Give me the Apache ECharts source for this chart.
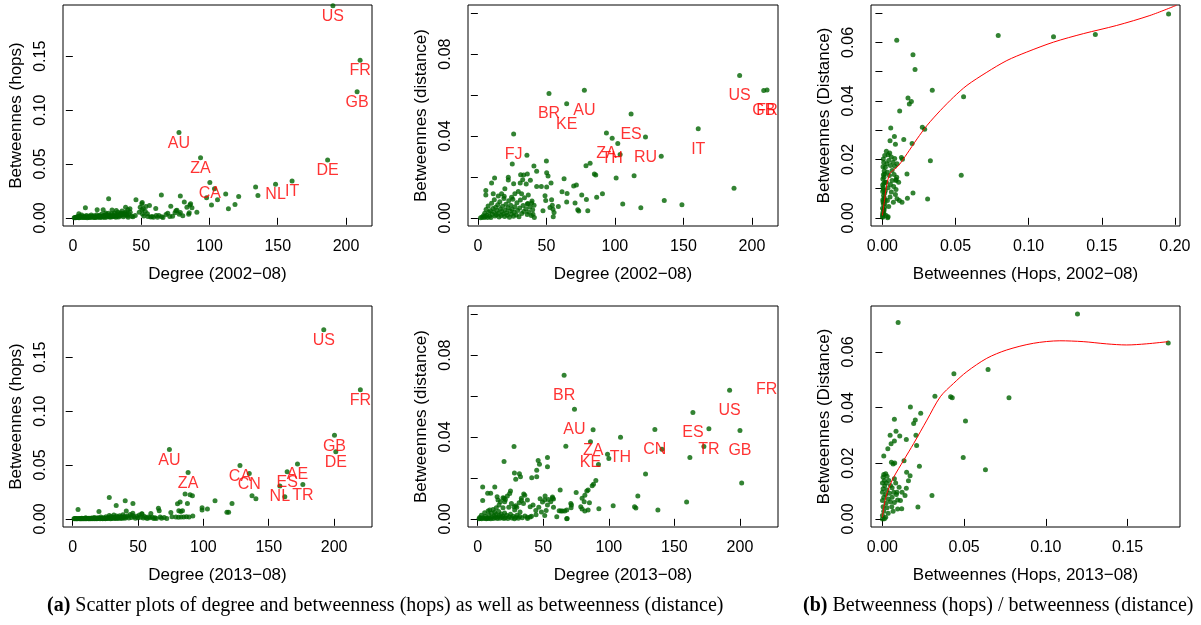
<!DOCTYPE html>
<html>
<head>
<meta charset="utf-8">
<script src="https://cdn.jsdelivr.net/npm/echarts@6/dist/echarts.min.js"></script>
<style>
  html, body { margin: 0; padding: 0; background: #fff; }
  #main { width: 1201px; height: 625px; }
</style>
</head>
<body>
<div id="main"></div>
<script>
// ---- data ----
// (a) top row: degree 2002-08 vs betweenness
var deg02Hops = [
  [190.4,0.1968],[210.3,0.1464],[208.1,0.1171],[77.7,0.0791],[93.5,0.0557],[186.5,0.0536],[160.5,0.0342],
  [148.4,0.0311],[133.8,0.0286],[135.5,0.0208],[100.3,0.0327],[103.7,0.0271],[111.9,0.0221],[121.4,0.0199],
  [105.9,0.0168],[97.9,0.0187],[101.5,0.0118],[113.9,0.0084],[118.7,0.0124],
  [64.8,0.0211],[78.7,0.0202],[81.6,0.0146],[85.7,0.0118],[86.2,0.0131],[83.5,0.0099],[87.2,0.0093],[71.7,0.0108],
  [75.5,0.0065],[76.2,0.0071],[78.7,0.005],[80.5,0.002],[90.8,0.0052],[84.8,0.0034],[69.5,0.0043],[71,0.0012],
  [73,0.0015],[60.7,0.0087],[56.1,0.0115],[68.2,0.003],[61,0.0021],[63,0.0021],[74.8,0.0047],[77.9,0.0034],[85.2,0.0047],
  [46.2,0.0168],[26.2,0.0177],[50.5,0.0131],[50.8,0.0143],[49.3,0.0099],[51.5,0.0087],[53.5,0.0106],[50.6,0.0075],
  [48.6,0.0052],[54.6,0.0037],[45.7,0.0021],[52,0.0018],[53,0.006],[51,0.0035],[55,0.0012],[57,0.0008],[58,0.0012],
  [59,0.0005],[65,0.0011],[66,0.0004],[62,0.0006],
  [38.6,0.0099],[40.3,0.0075],[41.8,0.0084],[31.8,0.0068],[17.8,0.0075],[22.2,0.0075],[9.2,0.0093],[28.7,0.0072],
  [4.4,0.0037],[36,0.0063],[33,0.0052],[42,0.0052],[39,0.0055],[24,0.0045],[35,0.0045],[38,0.0048],
  [1,0.0001],[1.5,0.0003],[2,0],[2.5,0.0006],[3,0.0002],[3.5,0.0012],[4,0.0004],[4.5,0.0001],[5,0.0018],[5.5,0.0007],
  [6,0.0003],[6.5,0.0026],[7,0.0009],[7.5,0.0002],[8,0.0005],[8.5,0.0014],[9,0.0003],[9.5,0.0008],[10,0.0021],
  [10.5,0.0001],[11,0.0011],[11.5,0.0004],[12,0.0016],[12.5,0.0007],[13,0.0002],[13.5,0.0025],[14,0.0009],
  [14.5,0.0013],[15,0.0004],[15.5,0.0019],[16,0.0006],[16.5,0.0002],[17,0.0011],[17.5,0.0028],[18,0.0005],
  [18.5,0.0015],[19,0.0008],[19.5,0.0022],[20,0.0003],[20.5,0.0012],[21,0.0033],[21.5,0.0006],[22,0.0017],
  [22.5,0.0009],[23,0.0024],[23.5,0.0004],[24.5,0.0031],[25,0.0007],[25.5,0.0019],[26,0.0042],[26.5,0.001],
  [27,0.0026],[27.5,0.0005],[28,0.0015],[28.5,0.0038],[29,0.0009],[29.5,0.0023],[30,0.0012],[30.5,0.0045],
  [31,0.0018],[31.5,0.0006],[32,0.0029],[32.5,0.0014],[33.5,0.0008],[34,0.0035],[34.5,0.0016],[35.5,0.0027],
  [36.5,0.0041],[37,0.0009],[37.5,0.0024],[38.5,0.0033],[39.5,0.0028],[40,0.0018],[40.5,0.0006],[41,0.0036],
  [43,0.0014],[44,0.0009]
];
var deg02HopsLabels = [
  [190.4,0.1968,'US'],[210.3,0.1464,'FR'],[208.1,0.1171,'GB'],[77.7,0.0791,'AU'],[93.5,0.0557,'ZA'],
  [100.3,0.0327,'CA'],[186.5,0.0536,'DE'],[148.4,0.0311,'NL'],[160.5,0.0342,'IT']
];

var deg02Dist = [
  [191,0.0696],[208.6,0.0622],[211,0.0625],[77.7,0.0623],[51.9,0.0607],[64.8,0.0558],[111.8,0.0507],[160.8,0.0435],
  [26.1,0.041],[93.8,0.0415],[98,0.0389],[122.3,0.0395],[102.1,0.0363],[35.8,0.0306],[103.8,0.031],[133.8,0.0301],
  [25.1,0.0263],[50,0.0278],[78.9,0.0255],[81.9,0.0267],[40.9,0.0253],[42.9,0.0227],[50.2,0.022],[51.2,0.0204],
  [85,0.0214],[86,0.0209],[114,0.0206],[100.9,0.0195],[62.9,0.0191],[186.9,0.0145],[69.9,0.0155],[71.9,0.016],
  [61.4,0.0127],[65.1,0.0119],[75.8,0.0111],[79.2,0.009],[86.7,0.0101],[90.9,0.0118],[70.9,0.0073],[72.9,0.004],
  [73.6,0.0033],[80.2,0.0034],[105.7,0.0067],[118.9,0.0049],[136,0.0085],[148.9,0.0064],[64.8,0.0077],[58.7,0.0055],
  [53.8,0.0088],[54.3,0.0062],[54.8,0.0042],[55.6,0.0026],[55,0.0005],[49,0.0108],[49.5,0.0085],[50.2,0.015],
  [47.5,0.0034],[52.6,0.005],[41.2,0.0002],[40.2,0.0018],
  [22.2,0.0198],[22.2,0.0185],[12.2,0.0195],[10,0.017],[31.2,0.0211],[33.4,0.0209],[36.1,0.0214],[32.7,0.0186],
  [38.3,0.0183],[26.1,0.0167],[30.9,0.017],[35.3,0.0165],[42.9,0.0153],[46.3,0.0153],[53.4,0.017],[5.8,0.0134],
  [5.8,0.0111],[11.2,0.0118],[14.9,0.0106],[17.3,0.0118],[19.2,0.0105],[24.6,0.0101],[27,0.0118],[19.7,0.0142],
  [29.5,0.0129],[31.9,0.0118],[36.8,0.0111],[39.2,0.0072],[36.1,0.0067],
  [2,0],[3,0.0003],[4,0.001],[4.5,0.0001],[5,0.0022],[5.5,0.0005],[6,0.0041],[6.5,0.0013],[7,0.0002],[7.5,0.0058],
  [8,0.0027],[8.5,0.0008],[9,0.0035],[9.5,0.0001],[10,0.0071],[10.5,0.0018],[11,0.0046],[11.5,0.0029],[12,0.0088],
  [12.5,0.0009],[13,0.0052],[13.5,0.0015],[14,0.0036],[14.5,0.0064],[15,0.0022],[15.5,0.0004],[16,0.0079],
  [16.5,0.0043],[17,0.0011],[17.5,0.0031],[18,0.0056],[18.5,0.0019],[19,0.0094],[19.5,0.0007],[20,0.0038],
  [20.5,0.0066],[21,0.0025],[21.5,0.0012],[22,0.0049],[22.5,0.0083],[23,0.0003],[23.5,0.0033],[24,0.0061],
  [24.5,0.0017],[25,0.0042],[25.5,0.0091],[26,0.0008],[26.5,0.0027],[27,0.0054],[28,0.0014],[28.5,0.0074],
  [29,0.0036],[30,0.0005],[30.5,0.0048],[31,0.0087],[32,0.0021],[33,0.006],[33.5,0.0031],[34,0.0098],[35,0.0044],
  [36,0.0016],[36.5,0.007],[37,0.0029],[38,0.0053],[39,0.0011],[39.5,0.0082],[40,0.004],[41,0.0062]
];
var deg02DistLabels = [
  [191,0.0696,'US'],[211,0.0625,'FR'],[208.6,0.0622,'GB'],[77.7,0.0623,'AU'],[51.9,0.0607,'BR'],[64.8,0.0558,'KE'],
  [111.8,0.0507,'ES'],[160.8,0.0435,'IT'],[26.1,0.041,'FJ'],[93.8,0.0415,'ZA'],[98,0.0389,'TH'],[122.3,0.0395,'RU']
];

// (b) top: hops vs distance 2002-08
var hopsDist02 = [
  [0.1957,0.0697],[0.1456,0.0627],[0.117,0.0619],[0.0792,0.0624],[0.0098,0.0607],[0.0209,0.0558],[0.0223,0.0507],
  [0.0341,0.0436],[0.0555,0.0414],[0.0175,0.041],[0.0198,0.0398],[0.0184,0.0389],[0.0118,0.0365],[0.0273,0.031],
  [0.0289,0.0303],[0.0057,0.0307],[0.0082,0.0278],[0.0052,0.0264],[0.0089,0.0252],[0.0146,0.0268],[0.0203,0.0254],
  [0.0328,0.0195],[0.0539,0.0146],[0.0168,0.015],[0.013,0.0206],[0.0137,0.02],[0.0209,0.0085],[0.0309,0.0064],
  [0.0171,0.0067],[0.0093,0.0131],[0.0093,0.0097],
  [0.0027,0.0228],[0.005,0.0222],[0.0016,0.0213],[0.0039,0.0216],[0.0061,0.0208],[0.0084,0.0203],[0.0043,0.0196],
  [0.0073,0.019],[0.003,0.0185],[0.0055,0.0179],[0.002,0.0173],[0.0084,0.0176],[0.01,0.0185],[0.0066,0.0162],
  [0.0034,0.0156],[0.0016,0.015],[0.0048,0.0145],[0.008,0.0148],[0.0098,0.0139],[0.0066,0.0128],[0.0027,0.0122],
  [0.0055,0.0114],[0.0093,0.0128],[0.0111,0.0122],[0.0077,0.0107],[0.0039,0.0103],[0.002,0.0093],[0.0061,0.0088],
  [0.0089,0.008],[0.01,0.0065],[0.0116,0.0059],[0.0052,0.0071],[0.0034,0.0059],[0.0016,0.0048],[0.0043,0.0039],
  [0.0075,0.0053],[0.0134,0.0053],[0.0011,0.0025],[0.0025,0.0008],[0.0039,0.0004],[0.0002,0.0002],[0.0011,0.0014],
  [0.0002,0.0005],[0.0004,0.0019],[0.0001,0.0033],[0.0006,0.0047],[0.0003,0.0062],[0.0008,0.0076],[0.0002,0.009],
  [0.0005,0.0104],[0.001,0.0118],[0.0003,0.0133],[0.0007,0.0147],[0.0012,0.016],[0.0004,0.0175],[0.0009,0.0189],
  [0.0006,0.0201],[0.0001,0.0011],[0.0009,0.0028],[0.0004,0.0055],[0.0013,0.0069],[0.0007,0.0097],[0.0002,0.0112],
  [0.0011,0.0139],[0.0015,0.0084],[0.0018,0.0122],[0.0014,0.0035],[0.0019,0.0061],[0.0036,0]
];
var fit02X = [0,0.0014,0.0027,0.005,0.0077,0.0111,0.0168,0.0237,0.0305,0.0396,0.0487,0.0578,0.0714,0.0851,0.0987,0.117,0.1374,0.1602,0.1829,0.2011];
var fit02Y = [0.0008,0.0059,0.0105,0.0151,0.0164,0.0179,0.0219,0.027,0.0316,0.0367,0.0413,0.0453,0.0498,0.0538,0.0567,0.0601,0.063,0.0658,0.0692,0.0727];

// (a) bottom row: degree 2013-08 vs betweenness
var deg13Hops = [
  [192.1,0.1755],[220.1,0.1198],[200.3,0.0775],[201.3,0.0623],[74,0.0644],[88.3,0.043],[128,0.0495],[135.1,0.042],
  [172,0.0508],[164.1,0.0436],[176.1,0.0318],[158.5,0.0305],[162.3,0.0206],[137.2,0.0215],[140.2,0.0187],
  [121.9,0.0143],[108.9,0.0168],[99,0.0103],[103.1,0.009],[99,0.0081],[118,0.0062],[119.3,0.0062],[86,0.023],
  [89.8,0.0224],[91.6,0.0215],[80.2,0.014],[82.2,0.0156],[87.8,0.0143],[81.2,0.0075],[82.7,0.0069],[91.9,0.0025],
  [75.1,0.0059],[65.6,0.0097],[66.2,0.0075],[28,0.0199],[40.2,0.0168],[46.1,0.0143],[33.3,0.0124],[4.1,0.0087],
  [20.1,0.0069],[41,0.0072],[59.8,0.005],[52.9,0.0044],[84,0.0075],
  [1,0],[1.5,0.0002],[2,0.0001],[2.5,0.0004],[3,0],[3.5,0.0001],[4.5,0.0003],[5,0],[5.5,0.0002],[6,0.0001],[6.5,0],
  [7,0.0005],[7.5,0.0001],[8,0.0002],[8.5,0],[9,0.0003],[9.5,0.0001],[10,0.0011],[10.5,0],[11,0.0004],[11.5,0.0002],
  [12,0.0001],[12.5,0.0006],[13,0],[13.5,0.0003],[14,0.0001],[14.5,0.0008],[15,0.0002],[15.5,0],[16,0.0005],
  [16.5,0.0013],[17,0.0001],[17.5,0.0003],[18,0.0007],[18.5,0],[19,0.0002],[19.5,0.0009],[20,0.0004],[21,0.0001],
  [21.5,0.0016],[22,0.0003],[22.5,0.0006],[23,0],[23.5,0.0011],[24,0.0002],[24.5,0.0005],[25,0.0001],[25.5,0.0019],
  [26,0.0004],[26.5,0.0008],[27,0.0002],[27.5,0.0013],[28,0.0031],[28.5,0.0006],[29,0.0001],[29.5,0.0022],
  [30,0.0009],[30.5,0.0003],[31,0.0015],[31.5,0.0035],[32,0.0005],[32.5,0.0011],[33,0.0002],[33.5,0.0026],
  [34,0.0008],[34.5,0.0017],[35,0.0004],[35.5,0.0012],[36,0.0029],[36.5,0.0007],[37,0.0019],[37.5,0.0002],
  [38,0.0014],[38.5,0.0038],[39,0.0009],[39.5,0.0021],[40,0.0005],[41,0.0016],[42,0.0027],[43,0.0008],[44,0.0041],
  [45,0.0012],[45.5,0.0033],[46,0.0052],[47,0.0019],[48,0.0006],[49,0.0024],[50,0.0011],[51,0.0035],[52,0.0015],
  [53,0.0048],[54,0.0007],[55,0.0022],[56,0.0012],[57,0.0003],[58,0.0018],[59,0.0009],[61,0.0014],[62,0.0004],
  [63,0.0011],[64,0.0002],[67,0.0016],[68,0.0006],[70,0.0012],[72,0.0004],[76,0.0019],[79,0.0017],[81,0.0015],
  [83,0.0018],[85,0.0016],[87,0.002],[89,0.0017]
];
var deg13HopsLabels = [
  [192.1,0.1755,'US'],[220.1,0.1198,'FR'],[200.3,0.0775,'GB'],[201.3,0.0623,'DE'],[74,0.0644,'AU'],
  [88.3,0.043,'ZA'],[128,0.0495,'CA'],[135.1,0.042,'CN'],[172,0.0508,'AE'],[164.1,0.0436,'ES'],
  [176.1,0.0318,'TR'],[158.5,0.0305,'NL']
];

var deg13Dist = [
  [65.9,0.0702],[192.1,0.0628],[73.8,0.0535],[164.1,0.052],[88,0.0435],[135.1,0.0437],[176.3,0.044],[200,0.0432],
  [108.9,0.0399],[86,0.0376],[27.7,0.0353],[67.2,0.0355],[172.5,0.0353],[140.5,0.034],[99,0.0316],[100,0.0295],
  [161.8,0.03],[53.2,0.03],[53.2,0.0254],[46.1,0.0285],[47.1,0.0267],[20.1,0.028],[92.1,0.0265],[45,0.0237],
  [45,0.0205],[41.2,0.0201],[28,0.0224],[31.8,0.022],[32.6,0.0206],[29,0.0193],[128,0.0219],[90.1,0.0187],
  [88.3,0.0169],[87.3,0.0162],[62.9,0.0141],[75.1,0.0128],[3.8,0.0155],[3.8,0.0089],[13,0.0155],[7.6,0.0125],
  [9.9,0.0125],[25,0.0136],[19.3,0.0103],[21.1,0.0095],[35.1,0.0121],[33.3,0.009],[29,0.0064],[51.4,0.0111],
  [53.9,0.0095],[57,0.0106],[57.8,0.0097],[122.1,0.0111],[103.3,0.0064],[119.6,0.0059],[120.6,0.0053],
  [137.4,0.0043],[92.4,0.0049],[159.3,0.0082],[201.3,0.0175],[71,0.0075],[71.2,0.0054],[68.2,0.0002],
  [64.6,0.0038],[63.4,0.0038],
  [84.2,0.0141],[83.2,0.0136],[81.7,0.0115],[81.2,0.0083],[79.6,0.0101],[85.2,0.0079],[84.2,0.0043],[81.7,0.0038],
  [79.6,0.0048],[78.6,0.0059],[71.5,0.0067],[66.4,0.0038],[67.9,0.0043],
  [57,0.01],[55.7,0.0084],[51.1,0.0092],[53.2,0.0067],[47.6,0.0098],[49.4,0.0082],[46.6,0.0056],[44.3,0.0041],
  [52.2,0.0041],[48.6,0.0033],[57.8,0.0056],[62.1,0.0039],[60.3,0.001],[67.9,0],[51.1,0.0016],[44.5,0.002],
  [41,0.0013],[37.9,0.0008],[40,0.0059],[42.2,0.0067],[37.9,0.0092],[35.9,0.0115],[33.3,0.01],[34.9,0.0075],
  [31.6,0.0079],[29.8,0.0056],[28.2,0.0043],[32.3,0.0033],[27.7,0.0059],
  [14.8,0.0108],[15.5,0.0092],[17.3,0.0083],[16.3,0.0067],[20.1,0.01],[20.6,0.0083],[24.4,0.0124],[22.6,0.0111],
  [25.7,0.0075],[23.7,0.0056],[19.3,0.0054],[14.2,0.0054],[11.7,0.0046],[9.2,0.0043],[7.9,0.0038],[5.3,0.003],
  [2.8,0.0018],[1.5,0.0007],
  [1,0],[2,0.0002],[3,0],[4,0.0005],[5,0.0001],[6,0.0011],[6.5,0],[7,0.0003],[8,0.0001],[8.5,0.0019],[9,0.0004],
  [10,0],[10.5,0.0027],[11,0.0008],[12,0.0002],[12.5,0.0014],[13,0.0032],[13.5,0.0005],[14,0.0021],[15,0.0001],
  [15.5,0.0009],[16,0.0036],[16.5,0.0016],[17,0.0003],[18,0.0024],[18.5,0.0007],[19,0.0012],[20,0.0001],
  [20.5,0.0029],[21,0.0005],[22,0.0017],[23,0.0002],[24,0.001],[25,0.0022],[26,0.0004],[27,0.0013],[28,0],
  [29,0.0007],[30,0.0018],[31,0.0003],[32,0.0011],[34,0.0005],[36,0.0014],[38,0.0002],[40,0.0009]
];
// FR has a label but no visible point in this panel
var deg13DistLabels = [
  [65.9,0.0702,'BR'],[192.1,0.0628,'US'],[220.4,0.0732,'FR'],[73.8,0.0535,'AU'],[164.1,0.052,'ES'],
  [88,0.0435,'ZA'],[135.1,0.0437,'CN'],[176.3,0.044,'TR'],[200,0.0432,'GB'],[108.9,0.0399,'TH'],[86,0.0376,'KE']
];

// (b) bottom: hops vs distance 2013-08
var hopsDist13 = [
  [0.1193,0.0736],[0.1748,0.0632],[0.0096,0.0706],[0.0646,0.0537],[0.0437,0.0522],[0.0321,0.0441],[0.0417,0.0439],
  [0.0427,0.0435],[0.0774,0.0435],[0.0171,0.0402],[0.0234,0.038],[0.0073,0.0358],[0.0201,0.0355],[0.0191,0.0343],
  [0.0508,0.0352],[0.0083,0.0315],[0.0047,0.0301],[0.0106,0.0298],[0.0205,0.0301],[0.0073,0.028],[0.0146,0.0285],
  [0.0053,0.027],[0.0033,0.0252],[0.0209,0.0264],[0.0008,0.0226],[0.0494,0.0221],[0.0055,0.0204],[0.0075,0.0201],
  [0.0065,0.0197],[0.0132,0.0209],[0.0226,0.0189],[0.063,0.0177],[0.0148,0.0168],[0.0169,0.0155],[0.0159,0.0137],
  [0.0146,0.011],[0.0138,0.0084],[0.0303,0.0084],[0.0217,0.0043],[0.0118,0.0037],
  [0.0008,0.016],[0.002,0.0162],[0.0004,0.015],[0.0028,0.0153],[0.0012,0.0138],[0,0.0129],[0.0024,0.0129],
  [0.0039,0.0138],[0.0014,0.0119],[0.0049,0.012],[0.0004,0.0108],[0.0028,0.0104],[0.0059,0.0112],[0,0.0096],
  [0.002,0.0088],[0.0043,0.0092],[0.0069,0.0096],[0.0008,0.0078],[0.0035,0.0072],[0.0059,0.0078],[0.0085,0.0088],
  [0,0.0066],[0.0022,0.0056],[0.0049,0.0062],[0.0073,0.0059],[0.0093,0.0068],[0.0004,0.0044],[0.0028,0.004],
  [0.0057,0.0044],[0.0008,0.0028],[0.0035,0.002],[0,0.0012],[0.002,0.0006],[0,0],[0.0012,0.0001],[0.0065,0.0028],
  [0.0093,0.0036],[0.011,0.0066],[0.012,0.0096],[0.0102,0.0114],[0.0081,0.0129],[0.0073,0.0144],[0.0089,0.0096]
];
var fit13X = [0,0.0012,0.0033,0.0069,0.013,0.0191,0.0272,0.0354,0.0435,0.0516,0.0638,0.076,0.0923,0.1085,0.1228,0.137,0.1492,0.1614,0.1748];
var fit13Y = [0.0006,0.0054,0.0102,0.015,0.0211,0.0271,0.0355,0.0439,0.0487,0.0529,0.0577,0.0607,0.0631,0.064,0.0637,0.0629,0.0625,0.0629,0.0637];

// axis ticks
var degTicks = [0, 50, 100, 150, 200];
var hopsTicks = [0, 0.05, 0.10, 0.15];
var distTicks = [0, 0.02, 0.04, 0.06, 0.08, 0.10];
var distLabelTicks = [0, 0.04, 0.08];
var hopsXTicks02 = [0, 0.05, 0.10, 0.15, 0.20];
var hopsXTicks13 = [0, 0.05, 0.10, 0.15];
var dist02YTicks = [0, 0.01, 0.02, 0.03, 0.04, 0.05, 0.06, 0.07];
var dist02YLabelTicks = [0, 0.02, 0.04, 0.06];
var dist13YTicks = [0, 0.02, 0.04, 0.06];

// ---- chart ----
var SANS = 'Liberation Sans';
var SERIF = 'Liberation Serif';
var GREEN = '#006400';
var RED = '#ff0000';
var LABEL_DROP = 0.01;

var grids = [
  {left: 63, top: 5, width: 309, height: 221},
  {left: 468, top: 5, width: 310, height: 221},
  {left: 871, top: 5, width: 309, height: 221},
  {left: 63, top: 306, width: 309, height: 221},
  {left: 468, top: 306, width: 310, height: 221},
  {left: 871, top: 306, width: 309, height: 221}
].map(function (g) {
  g.show = true; g.borderColor = '#000'; g.borderWidth = 1; g.backgroundColor = 'transparent';
  return g;
});

function fmt2(v) { return v.toFixed(2); }
function fmt0(v) { return String(Math.round(v)); }

function axis(gi, min, max, ticks, labelTicks, f, name, isY) {
  return {
    gridIndex: gi, type: 'value', min: min, max: max,
    axisLine: {show: false}, splitLine: {show: false},
    axisTick: {show: true, inside: false, length: 7, customValues: ticks, lineStyle: {color: '#000', width: 1}},
    axisLabel: {
      customValues: labelTicks, formatter: f, rotate: isY ? 90 : 0,
      fontFamily: SANS, fontSize: 16, color: '#000', margin: isY ? 14 : 13
    },
    name: name, nameLocation: 'middle', nameGap: isY ? 38 : 40,
    nameTextStyle: {fontFamily: SANS, fontSize: 17, color: '#000'}
  };
}

var xAxes = [
  axis(0, -7.2, 219, degTicks, degTicks, fmt0, 'Degree (2002\u221208)'),
  axis(1, -7.2, 219, degTicks, degTicks, fmt0, 'Degree (2002\u221208)'),
  axis(2, -0.0078, 0.2035, hopsXTicks02, hopsXTicks02, fmt2, 'Betweennes (Hops, 2002\u221208)'),
  axis(3, -7.4, 229, degTicks, degTicks, fmt0, 'Degree (2013\u221208)'),
  axis(4, -7.4, 229, degTicks, degTicks, fmt0, 'Degree (2013\u221208)'),
  axis(5, -0.007, 0.182, hopsXTicks13, hopsXTicks13, fmt2, 'Betweennes (Hops, 2013\u221208)')
];
var yAxes = [
  axis(0, -0.0076, 0.1976, hopsTicks, hopsTicks, fmt2, 'Betweennes (hops)', true),
  axis(1, -0.004, 0.104, distTicks, distLabelTicks, fmt2, 'Betweennes (distance)', true),
  axis(2, -0.0028, 0.0728, dist02YTicks, dist02YLabelTicks, fmt2, 'Betweennes (Distance)', true),
  axis(3, -0.0076, 0.1976, hopsTicks, hopsTicks, fmt2, 'Betweennes (hops)', true),
  axis(4, -0.004, 0.104, distTicks, distLabelTicks, fmt2, 'Betweennes (distance)', true),
  axis(5, -0.0029, 0.0765, dist13YTicks, dist13YTicks, fmt2, 'Betweennes (Distance)', true)
];

function points(gi, data) {
  return {
    type: 'scatter', xAxisIndex: gi, yAxisIndex: gi, data: data,
    symbol: 'circle', symbolSize: 5, itemStyle: {color: GREEN}, silent: true
  };
}
function names(gi, data) {
  return {
    type: 'scatter', xAxisIndex: gi, yAxisIndex: gi,
    data: data.map(function (d) { return {value: [d[0], d[1] - LABEL_DROP], name: d[2]}; }),
    symbolSize: 0.01, itemStyle: {color: 'transparent'}, silent: true, z: 5,
    label: {show: true, position: 'inside', formatter: '{b}', color: RED, fontFamily: SANS, fontSize: 16}
  };
}
function fit(gi, xs, ys) {
  return {
    type: 'line', xAxisIndex: gi, yAxisIndex: gi,
    data: xs.map(function (x, i) { return [x, ys[i]]; }),
    showSymbol: false, symbol: 'none', smooth: 0.3, clip: true, silent: true, z: 4,
    lineStyle: {color: RED, width: 1}
  };
}

function caption(tag, text, left) {
  return {
    text: '{b|' + tag + '} ' + text, left: left, top: 596, padding: 0,
    textStyle: {fontFamily: SERIF, fontSize: 20, fontWeight: 'normal', color: '#000',
      rich: {b: {fontFamily: SERIF, fontSize: 20, fontWeight: 'bold', color: '#000'}}}
  };
}

var chart = echarts.init(document.getElementById('main'), null, {renderer: 'canvas'});
chart.setOption({
  animation: false,
  backgroundColor: '#fff',
  title: [
    caption('(a)', 'Scatter plots of degree and betweenness (hops) as well as betweenness (distance)', 47),
    caption('(b)', 'Betweenness (hops) / betweenness (distance)', 803)
  ],
  grid: grids,
  xAxis: xAxes,
  yAxis: yAxes,
  series: [
    points(0, deg02Hops), names(0, deg02HopsLabels),
    points(1, deg02Dist), names(1, deg02DistLabels),
    points(2, hopsDist02), fit(2, fit02X, fit02Y),
    points(3, deg13Hops), names(3, deg13HopsLabels),
    points(4, deg13Dist), names(4, deg13DistLabels),
    points(5, hopsDist13), fit(5, fit13X, fit13Y)
  ]
});
</script>
</body>
</html>
